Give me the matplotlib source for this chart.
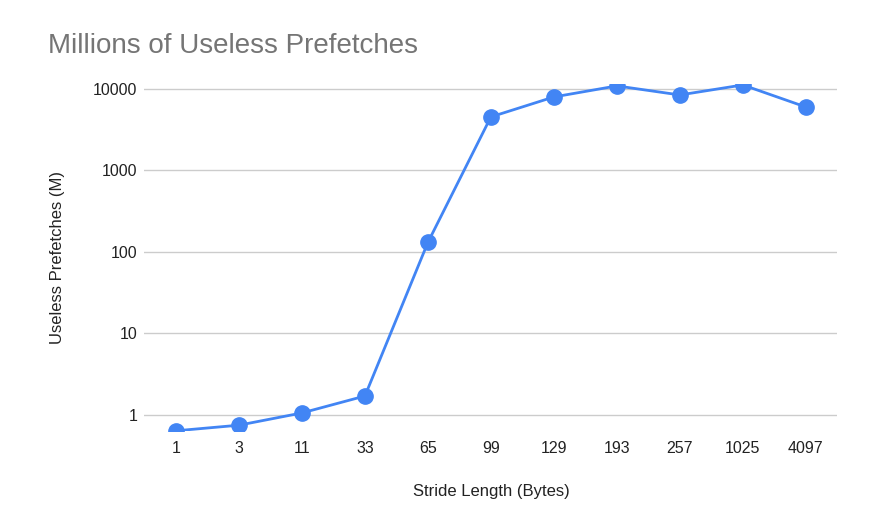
import matplotlib
matplotlib.use('Agg')
import matplotlib.pyplot as plt
from matplotlib.ticker import FixedLocator, NullLocator

plt.rcParams['font.family'] = ['Liberation Sans', 'DejaVu Sans']

# 数据
strides = ['1', '3', '11', '33', '65', '99', '129', '193', '257', '1025', '4097']
useless_m = [0.64, 0.75, 1.06, 1.71, 131, 4540, 7980, 10900, 8440, 11200, 6010]
y_ticks = [1, 10, 100, 1000, 10000]

LINE_COLOR = '#4285f4'

fig = plt.figure(figsize=(8.74, 5.17), dpi=100)
ax = fig.add_axes([0.1653, 0.1663, 0.7927, 0.6712])

x = list(range(len(strides)))
ax.plot(x, useless_m, color=LINE_COLOR, linewidth=2, marker='o',
        markersize=11, markerfacecolor=LINE_COLOR, markeredgecolor=LINE_COLOR,
        zorder=3)

ax.set_yscale('log')
ax.set_ylim(0.636, 11500)
ax.set_xlim(-0.5, len(strides) - 0.5)
ax.yaxis.set_major_locator(FixedLocator(y_ticks))
ax.yaxis.set_minor_locator(NullLocator())
ax.set_yticklabels([str(v) for v in y_ticks])
ax.set_xticks(x)
ax.set_xticklabels(strides)

ax.grid(True, axis='y', color='#cccccc', linewidth=1)
ax.set_axisbelow(True)
for s in ax.spines.values():
    s.set_visible(False)
ax.tick_params(length=0, labelsize=11.5, colors='#222222')
ax.tick_params(axis='y', pad=5)
ax.tick_params(axis='x', pad=7)

ax.set_xlabel('Stride Length (Bytes)', fontsize=12, color='#222222', labelpad=20)
ax.set_ylabel('Useless Prefetches (M)', fontsize=12, color='#222222', labelpad=20)

fig.text(0.055, 0.911, 'Millions of Useless Prefetches', fontsize=20,
         color='#757575', ha='left', va='center')

fig.savefig('out.png', dpi=100, facecolor='white')
